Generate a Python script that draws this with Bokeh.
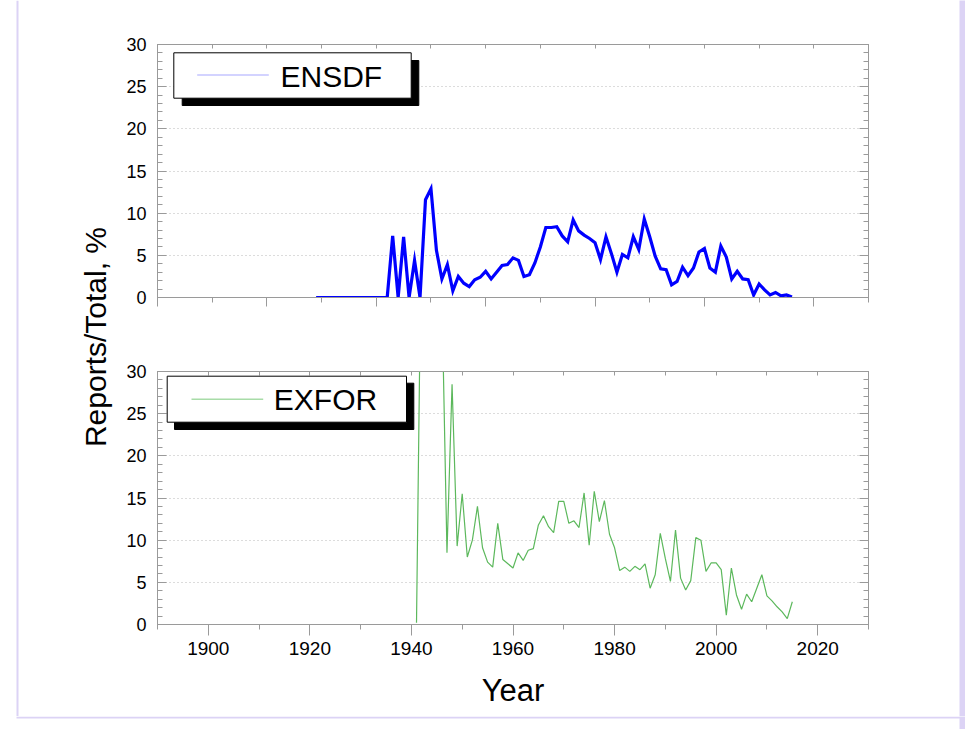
import math
from bokeh.plotting import figure
from bokeh.models import (Range1d, LinearAxis, SingleIntervalTicker, FixedTicker,
                          BoxAnnotation, Label, Span, CustomJSTickFormatter)
from bokeh.layouts import row, column
from bokeh.embed import file_html
from bokeh.resources import INLINE

# ---------------- data ----------------
ensdf_years = list(range(1929, 2017))
ensdf_values = (
    [0.0] * 14 +                                                   # 1929-1942
    [7.3, 0.0, 7.2, 0.0, 4.4, 0.0, 11.6] +                         # 1943-1949
    [12.9, 5.6, 2.2, 3.9, 0.8, 2.5, 1.7, 1.3, 2.1, 2.4] +          # 1950s
    [3.1, 2.2, 3.0, 3.8, 3.9, 4.7, 4.4, 2.5, 2.7, 4.1] +           # 1960s
    [6.0, 8.3, 8.3, 8.4, 7.3, 6.6, 9.2, 7.9, 7.4, 7.0] +           # 1970s
    [6.5, 4.5, 7.2, 5.2, 3.0, 5.1, 4.7, 7.2, 5.7, 9.3] +           # 1980s
    [7.2, 4.9, 3.4, 3.3, 1.5, 1.9, 3.6, 2.6, 3.5, 5.4] +           # 1990s
    [5.8, 3.5, 3.0, 6.1, 4.8, 2.2, 3.1, 2.2, 2.1, 0.3] +           # 2000s
    [1.6, 0.9, 0.3, 0.6, 0.2, 0.3, 0.05]                           # 2010-2016
)

exfor_years = list(range(1941, 2016))
exfor_values = (
    [0.2, 50.0, 60.0, 55.0, 45.0, 39.0, 8.5, 28.5, 9.3] +          # 1941-1949
    [15.5, 8.0, 10.0, 14.0, 9.1, 7.4, 6.8, 12.0, 7.7, 7.2] +       # 1950s
    [6.7, 8.5, 7.6, 8.8, 9.0, 11.8, 12.9, 11.6, 10.9, 14.6] +      # 1960s
    [14.6, 12.0, 12.3, 11.5, 15.6, 9.4, 15.8, 12.2, 14.7, 10.7] +  # 1970s
    [9.1, 6.4, 6.8, 6.3, 6.9, 6.5, 7.2, 4.3, 5.9, 10.8] +          # 1980s
    [7.8, 5.1, 11.2, 5.5, 4.1, 5.2, 10.3, 10.0, 6.3, 7.3] +        # 1990s
    [7.3, 6.5, 1.1, 6.7, 3.5, 1.8, 3.6, 2.7, 4.3, 5.9] +           # 2000s
    [3.4, 2.8, 2.1, 1.5, 0.7, 2.7]                                 # 2010-2015
)

series_names = ["ENSDF", "EXFOR"]
y_title = "Reports/Total, %"
x_title = "Year"

# ---------------- style / layout constants ----------------
FONT = "Liberation Sans"
LAV = "#dcd3f5"
AXC = "#9a9a9a"

LEFT_W = 122
PANEL_W = 837
RIGHT_W = 6
TOP_H = 330
BOT_H = 386
STRIP_H = 13
FRAME_L = 157          # absolute page x of the panel frames
FRAME_W = 711


def empty_fmt():
    return CustomJSTickFormatter(code="return ''")


def make_panel(height, xr, frame_top, frame_bottom_border):
    p = figure(width=PANEL_W, height=height, x_range=Range1d(*xr), y_range=Range1d(0, 30),
               output_backend="svg", toolbar_location=None, title=None,
               min_border_left=FRAME_L - LEFT_W,
               min_border_right=PANEL_W - (FRAME_L - LEFT_W) - FRAME_W,
               min_border_top=frame_top, min_border_bottom=frame_bottom_border)
    xa = p.below[0]
    ya = p.left[0]
    p.outline_line_color = AXC
    p.outline_line_width = 1
    p.background_fill_color = "white"
    p.border_fill_color = "white"
    p.xgrid.visible = False
    p.ygrid.ticker = FixedTicker(ticks=[5, 10, 15, 20, 25])
    p.ygrid.grid_line_color = "#b8b8b8"
    p.ygrid.grid_line_dash = "1 3"
    p.ygrid.grid_line_width = 1.2

    ya.ticker = SingleIntervalTicker(interval=5, num_minor_ticks=5)
    ya.major_tick_in = 9
    ya.major_tick_out = 0
    ya.minor_tick_in = 5
    ya.minor_tick_out = 0
    ya.major_label_standoff = 11
    ya.major_label_text_font = FONT
    ya.major_label_text_font_size = "18px"
    ya.major_label_text_color = "black"
    ya.axis_line_color = AXC
    ya.major_tick_line_color = AXC
    ya.minor_tick_line_color = AXC

    xa.ticker = SingleIntervalTicker(interval=20, num_minor_ticks=2)
    xa.axis_line_color = AXC
    xa.major_tick_line_color = AXC
    xa.minor_tick_line_color = AXC
    xa.major_tick_in = 0
    xa.minor_tick_in = 0

    ra = LinearAxis(ticker=SingleIntervalTicker(interval=5, num_minor_ticks=5),
                    formatter=empty_fmt(), major_tick_in=9, major_tick_out=0,
                    minor_tick_in=5, minor_tick_out=0,
                    axis_line_color=AXC, major_tick_line_color=AXC,
                    minor_tick_line_color=AXC, major_label_text_font_size="1px")
    p.add_layout(ra, "right")

    ta = LinearAxis(ticker=SingleIntervalTicker(interval=10, num_minor_ticks=0),
                    formatter=empty_fmt(),
                    major_tick_in=4, major_tick_out=0, minor_tick_in=0, minor_tick_out=0,
                    axis_line_color=AXC, major_tick_line_color=AXC,
                    minor_tick_line_color=AXC, major_label_text_font_size="1px")
    p.add_layout(ta, "above")
    return p, xa


def converter(frame_top, frame_h, xr):
    def cx(px):
        return xr[0] + (px - FRAME_L) / FRAME_W * (xr[1] - xr[0])

    def cy(py):
        return (frame_top + frame_h - py) / frame_h * 30.0
    return cx, cy


def add_legend(p, cx, cy, box, shadow, sample, text_pos, sample_color, text):
    sl, st, sr, sb = shadow
    p.add_layout(BoxAnnotation(left=cx(sl), right=cx(sr), top=cy(st), bottom=cy(sb),
                               fill_color="black", fill_alpha=1.0, line_color="black",
                               line_alpha=1.0, line_width=1))
    bl, bt, br, bb = box
    p.add_layout(BoxAnnotation(left=cx(bl), right=cx(br), top=cy(bt), bottom=cy(bb),
                               fill_color="white", fill_alpha=1.0, line_color="black",
                               line_alpha=1.0, line_width=1))
    x0, x1, yy = sample
    p.segment(x0=[cx(x0)], y0=[cy(yy)], x1=[cx(x1)], y1=[cy(yy)],
              line_color=sample_color, line_width=1.6, level="overlay")
    tx, ty = text_pos
    p.add_layout(Label(x=cx(tx), y=cy(ty), text=text, text_font=FONT,
                       text_font_size="30px", text_align="left",
                       text_baseline="middle", text_color="black", level="overlay"))


# ---------------- top panel: ENSDF ----------------
top_xr = (1900, 2030)
top, txa = make_panel(TOP_H, top_xr, 44, 33)
txa.formatter = empty_fmt()
txa.major_label_text_font_size = "1px"
txa.major_tick_out = 9
txa.minor_tick_out = 5
top.line(ensdf_years, ensdf_values, line_color="#0000ff", line_width=3.2,
         line_join="miter")
cx, cy = converter(44, 253, top_xr)
add_legend(top, cx, cy, (173.3, 52.3, 410.7, 97.7), (181.7, 60, 418.3, 105),
           (196.7, 268.3, 74.5), (280, 75.5), "#c4c4ff", series_names[0])

# ---------------- bottom panel: EXFOR ----------------
bot_xr = (1890, 2030)
bot, xa = make_panel(BOT_H, bot_xr, 41, 92)
xa.major_tick_out = 11
xa.minor_tick_out = 5
xa.major_label_standoff = 6
xa.major_label_text_font = FONT
xa.major_label_text_font_size = "19px"
xa.major_label_text_color = "black"
xa.axis_label = x_title
xa.axis_label_text_font = FONT
xa.axis_label_text_font_size = "31px"
xa.axis_label_text_font_style = "normal"
xa.axis_label_text_color = "black"
xa.axis_label_standoff = 15
bot.line(exfor_years, exfor_values, line_color="#5cb85c", line_width=1.2)
cx2, cy2 = converter(371, 253, bot_xr)
add_legend(bot, cx2, cy2, (166.7, 375.7, 406, 421.7), (174, 382.7, 413.3, 429),
           (191, 262.7, 398.7), (273.3, 399), "#a8dca8", series_names[1])

# ---------------- left strip with y title ----------------
lf = figure(width=LEFT_W, height=TOP_H + BOT_H, x_range=Range1d(0, LEFT_W),
            y_range=Range1d(0, TOP_H + BOT_H), output_backend="svg",
            toolbar_location=None, title=None, min_border=0,
            x_axis_location=None, y_axis_location=None)
lf.outline_line_color = None
lf.xgrid.visible = False
lf.ygrid.visible = False
lf.add_layout(Span(location=17, dimension="height", line_color=LAV, line_width=2))
lf.add_layout(Label(x=95, y=TOP_H + BOT_H - 336.5, text=y_title, angle=math.pi / 2,
                    text_font=FONT, text_font_size="30px", text_align="center",
                    text_baseline="middle", text_color="black"))

# ---------------- right lavender band ----------------
rf = figure(width=RIGHT_W, height=TOP_H + BOT_H, output_backend="svg",
            toolbar_location=None, title=None, min_border=0,
            x_axis_location=None, y_axis_location=None)
rf.outline_line_color = None
rf.background_fill_color = LAV
rf.border_fill_color = LAV
rf.xgrid.visible = False
rf.ygrid.visible = False

# ---------------- bottom strip ----------------
TOTAL_W = LEFT_W + PANEL_W + RIGHT_W
bs = figure(width=TOTAL_W, height=STRIP_H,
            x_range=Range1d(0, TOTAL_W), y_range=Range1d(0, STRIP_H),
            output_backend="svg", toolbar_location=None, title=None, min_border=0,
            x_axis_location=None, y_axis_location=None)
bs.outline_line_color = None
bs.xgrid.visible = False
bs.ygrid.visible = False
bs.add_layout(BoxAnnotation(left=16, right=TOTAL_W, bottom=STRIP_H - 2,
                            top=STRIP_H, fill_color=LAV, fill_alpha=1.0, line_alpha=0))
bs.add_layout(BoxAnnotation(left=TOTAL_W - RIGHT_W, right=TOTAL_W,
                            bottom=0, top=STRIP_H, fill_color=LAV, fill_alpha=1.0,
                            line_alpha=0))

layout = column(row(lf, column(top, bot), rf), bs)

open("out.html", "w").write(file_html(layout, INLINE))
